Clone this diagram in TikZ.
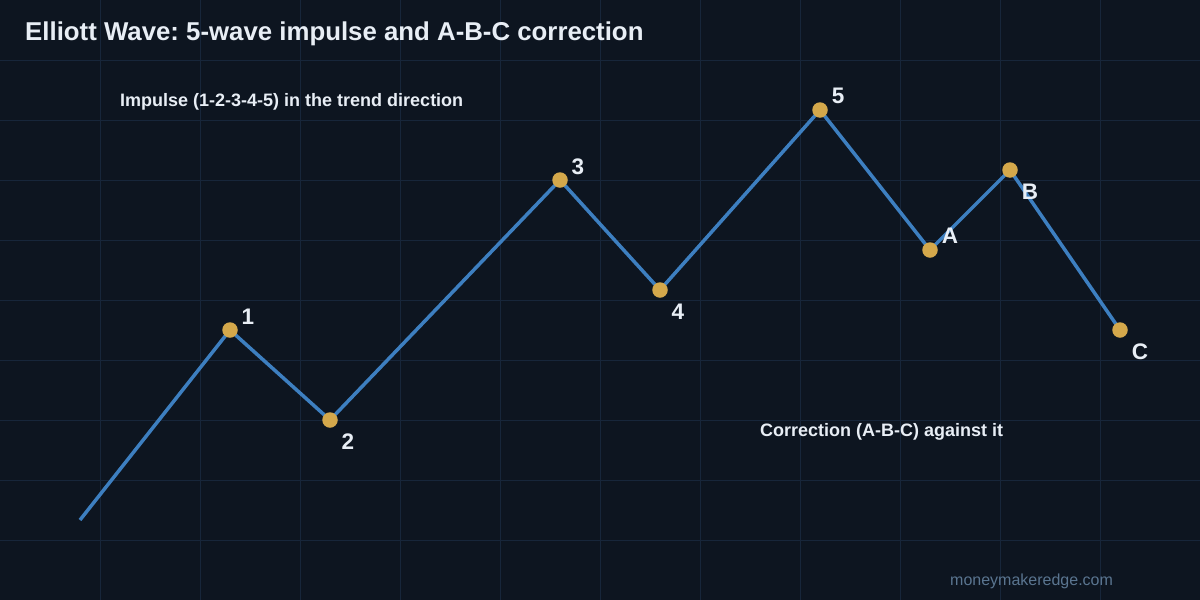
\documentclass[tikz,border=0pt]{standalone}
\usepackage{fontspec}
\setmainfont{Liberation Sans}
\frenchspacing
\definecolor{bg}{HTML}{0D1520}
\definecolor{gridc}{HTML}{17263A}
\definecolor{wave}{HTML}{3D7FC0}
\definecolor{dotc}{HTML}{D4A84B}
\definecolor{txt}{HTML}{E8EEF5}
\definecolor{mark}{HTML}{5A7590}
\tikzset{
  dotnode/.style={circle,fill=dotc,inner sep=0pt,minimum size=15.5pt},
  lbl/.style={text=txt,font=\fontsize{22.5}{26}\bfseries\selectfont,inner sep=0pt},
  note/.style={text=txt,font=\fontsize{18}{21}\bfseries\selectfont,inner sep=0pt,anchor=west},
}
\begin{document}
\begin{tikzpicture}[x=1pt,y=-1pt]
\fill[bg] (0,0) rectangle (1200,600);
\useasboundingbox (0,0) rectangle (1200,600);
\foreach \x in {100,200,...,1100} \draw[gridc,line width=1pt] (\x,0) -- (\x,600);
\foreach \y in {60,120,...,540} \draw[gridc,line width=1pt] (0,\y) -- (1200,\y);
\coordinate (s) at (80,520);
\coordinate (p1) at (230,330);
\coordinate (p2) at (330,420);
\coordinate (p3) at (560,180);
\coordinate (p4) at (660,290);
\coordinate (p5) at (820,110);
\coordinate (pA) at (930,250);
\coordinate (pB) at (1010,170);
\coordinate (pC) at (1120,330);
\draw[wave,line width=3.5pt,line join=round] (s) -- (p1) -- (p2) -- (p3) -- (p4) -- (p5) -- (pA) -- (pB) -- (pC);
\foreach \p in {p1,p2,p3,p4,p5,pA,pB,pC} \node[dotnode] (d\p) at (\p) {};
\node[lbl] (l1) at (248,317) {1};
\node[lbl] (l2) at (348,442) {2};
\node[lbl] (l3) at (578,167) {3};
\node[lbl] (l4) at (678,312) {4};
\node[lbl] (l5) at (838,96) {5};
\node[lbl] (lA) at (950,236) {A};
\node[lbl] (lB) at (1030,192) {B};
\node[lbl] (lC) at (1140,352) {C};
\node[text=txt,font=\fontsize{25.8}{30}\bfseries\selectfont,inner sep=0pt,anchor=west] (title) at (25,34) {Elliott Wave: 5-wave impulse and A-B-C correction};
\node[note] (n1) at (120,102) {Impulse (1-2-3-4-5) in the trend direction};
\node[note] (n2) at (760,432) {Correction (A-B-C) against it};
\node[text=mark,font=\fontsize{16}{19}\selectfont,inner sep=0pt,anchor=west] (wm) at (950,581) {moneymakeredge.com};
\end{tikzpicture}
\end{document}
